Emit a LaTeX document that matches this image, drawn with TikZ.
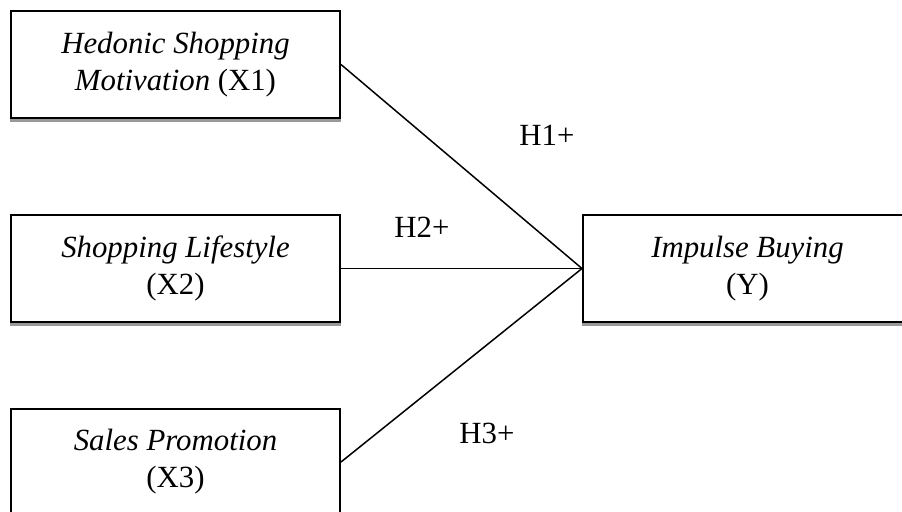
\documentclass[tikz,border=0pt]{standalone}
\usepackage{fontspec}
\setmainfont{Liberation Serif}
\usetikzlibrary{positioning}
\colorlet{shadow colour}{black!40}
\tikzset{
    % Boxes with a thin grey strip under them
    var box/.style={draw, line width=1pt, rectangle, align=center,
        minimum width=164.5pt, minimum height=53.5pt, inner sep=2pt,
        font=\fontsize{15.4}{18.5}\selectfont},
    shadow line/.style={color=shadow colour, line width=1.2pt},
    link/.style={line width=0.75pt},
    hyp/.style={font=\fontsize{15.4}{18}\selectfont},
}

\begin{document}
\begin{tikzpicture}[x=0.5pt, y=-0.5pt]

\useasboundingbox (0,0) rectangle (902,511);
\clip (0,0) rectangle (902,511);

\path
    (175.5,64.5) node [var box] (hedonic)
        {\textit{Hedonic Shopping}\\\textit{Motivation} (X1)}
    (175.5,268.5) node [var box] (lifestyle)
        {\textit{Shopping Lifestyle}\\(X2)}
    (175.5,462) node [var box] (promotion)
        {\textit{Sales Promotion}\\(X3)}
    (747.5,268.5) node [var box] (impulse)
        {\textit{Impulse Buying}\\(Y)};

\foreach \n in {hedonic, lifestyle, promotion, impulse}
    \draw [shadow line]
        ([yshift=-0.8pt]\n.south west) -- ([yshift=-0.8pt]\n.south east);

\draw [link] (hedonic.east) -- (impulse.west);
\draw [link] (lifestyle.east) -- (impulse.west);
\draw [link] (promotion.east) -- (impulse.west);

% Hypothesis labels
\path
    (547,135) node [hyp] (h1) {H1+}
    (422,227) node [hyp] (h2) {H2+}
    (487,433) node [hyp] (h3) {H3+};

\end{tikzpicture}
\end{document}
